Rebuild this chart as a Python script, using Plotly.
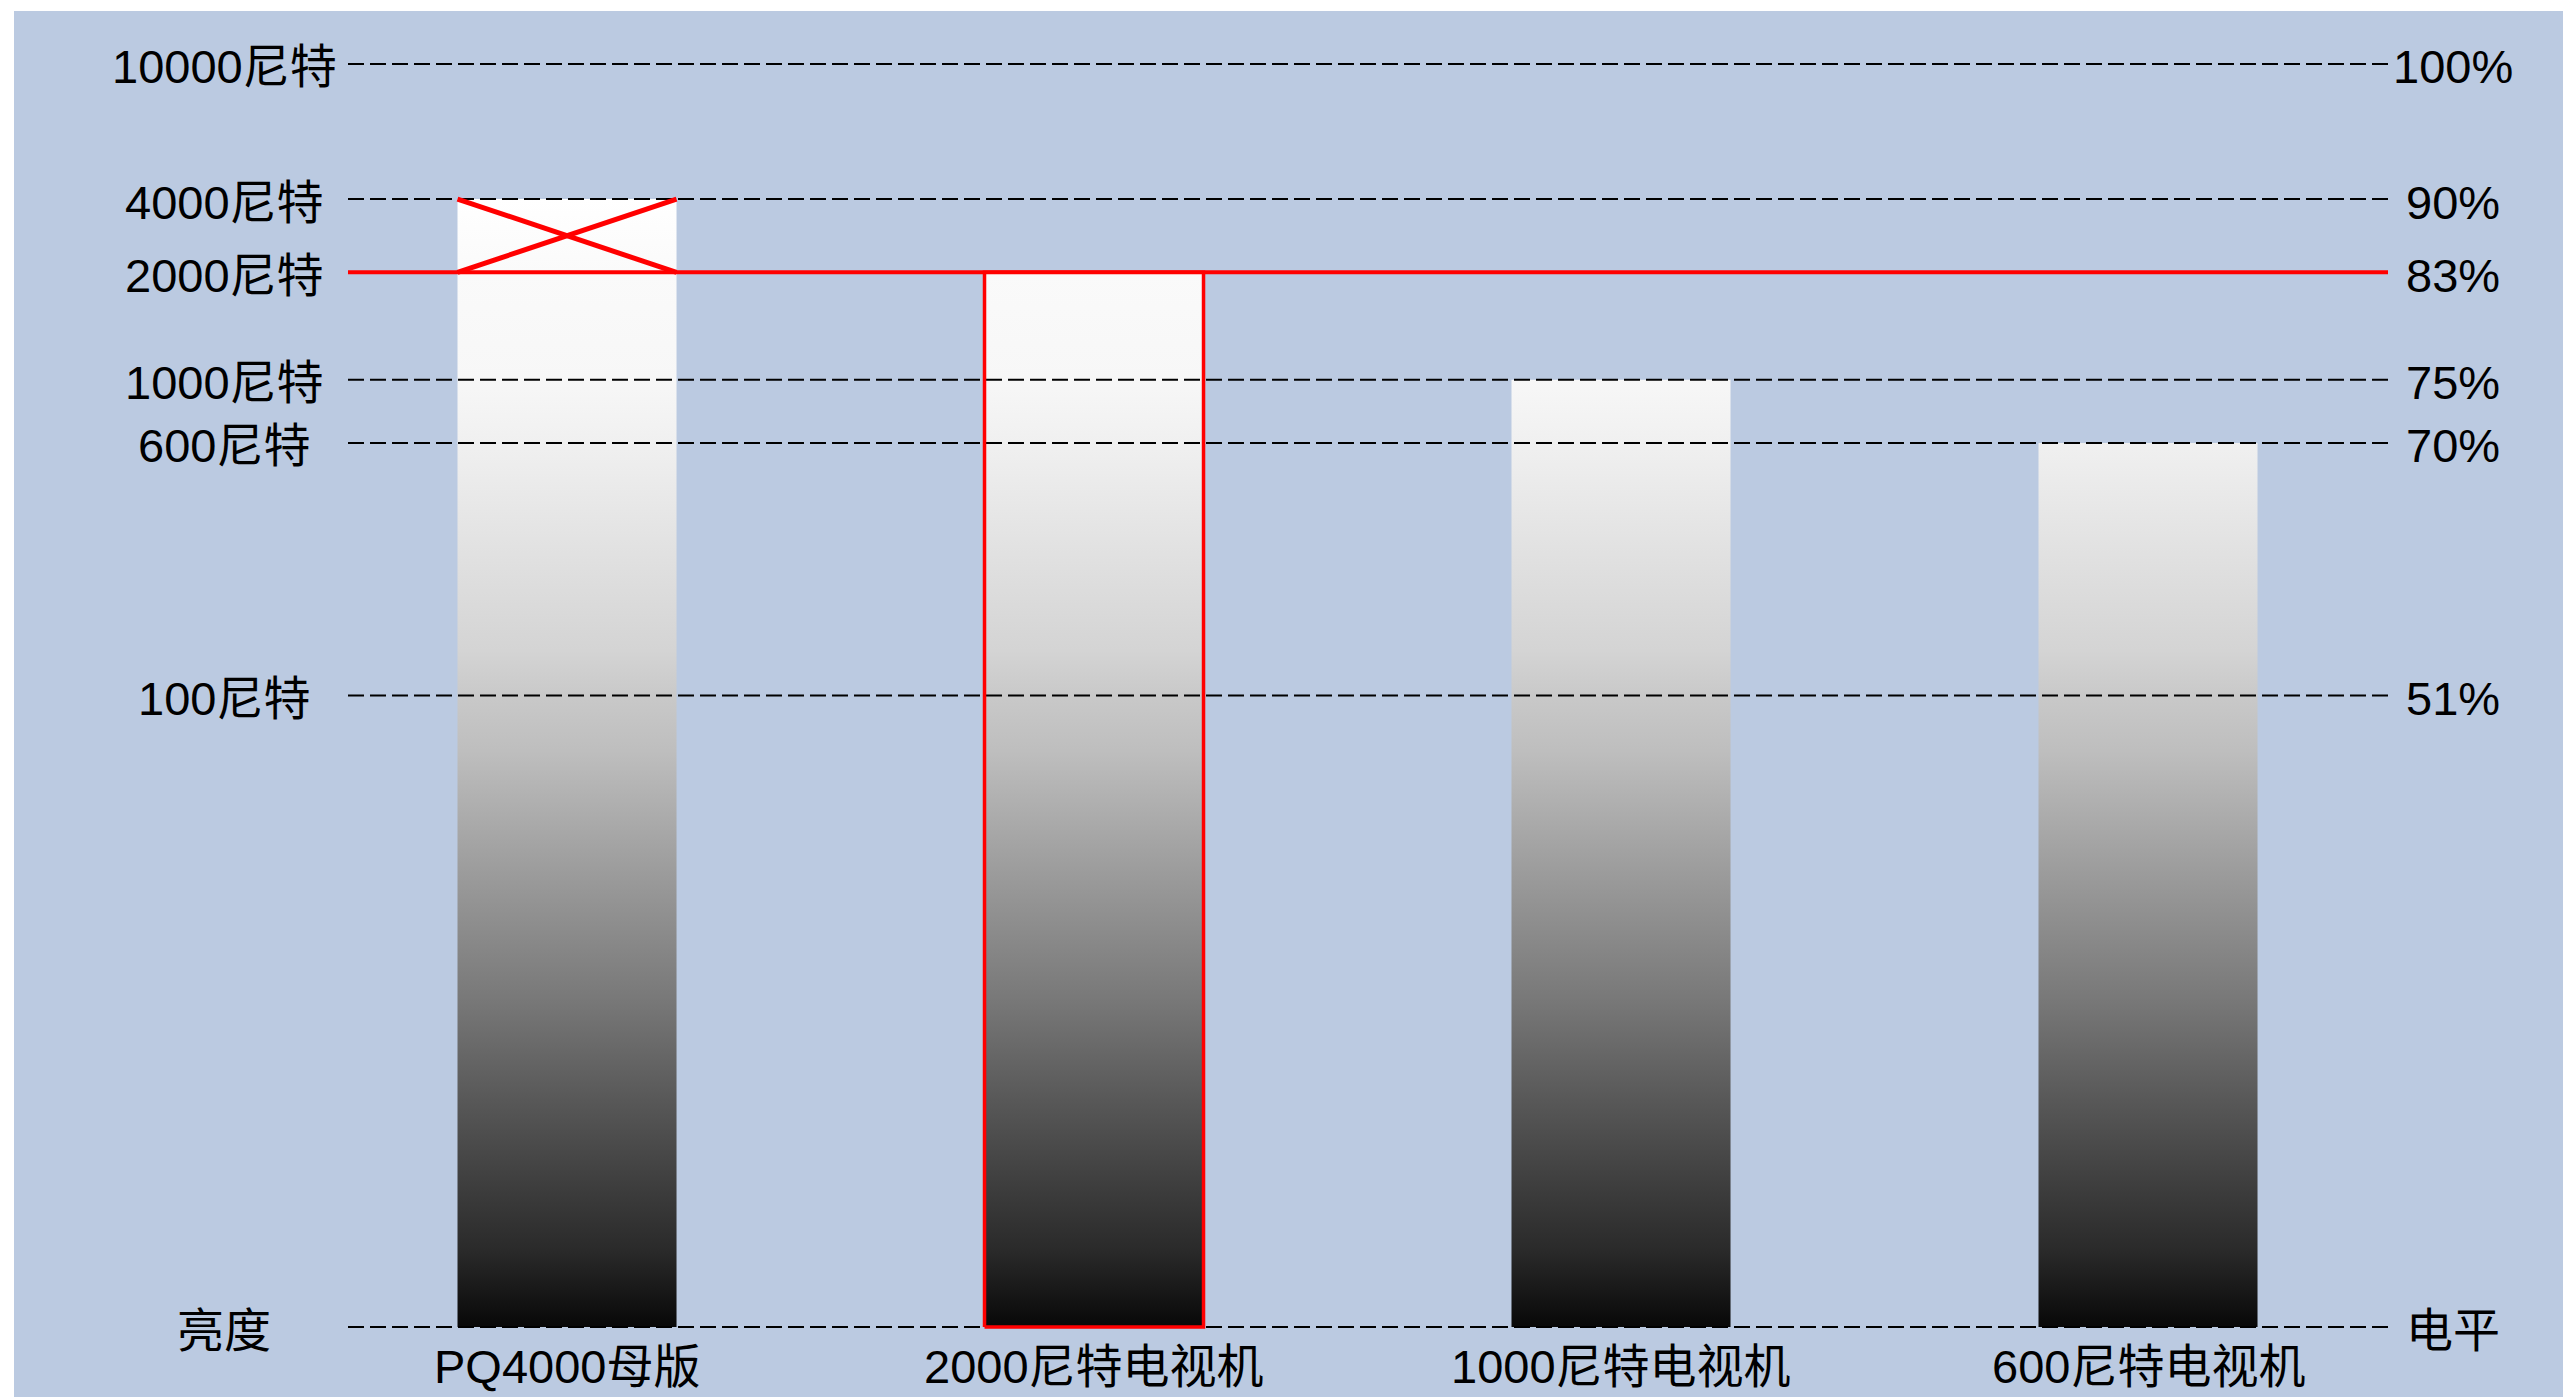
import plotly.graph_objects as go

# ---------------- data ----------------
categories = ["PQ4000母版", "2000尼特电视机", "1000尼特电视机", "600尼特电视机"]
bar_levels = [89.3, 83.5, 75.0, 70.0]          # signal level (axis position) of each bar top
tick_levels = [100.0, 89.3, 83.5, 75.0, 70.0, 50.0, 0.0]
nits_labels = ["10000尼特", "4000尼特", "2000尼特", "1000尼特", "600尼特", "100尼特", "亮度"]
pct_labels = ["100%", "90%", "83%", "75%", "70%", "51%", "电平"]
highlight_level = 83.5                          # 2000-nit clipping line
highlight_bar = 1                               # outlined bar (2000尼特电视机)
crossed_bar = 0                                 # bar whose top part is crossed out

# ---------------- layout constants ----------------
W, H = 2563, 1397
ML, MR, MT, MB = 348, 175, 45, 51
XR = [-0.4156, 3.4554]
YR = [-1.5, 101.5]
HALF = 0.2078
BLUE = "#BBCAE1"
RED = "#FF0000"
FONT = "Liberation Sans, Arial, Noto Sans CJK SC, sans-serif"
FS = 47
PW, PH = W - ML - MR, H - MT - MB


def px_x(px):
    return (px - ML) / PW


def px_y(py):
    return (H - MB - py) / PH


gray_scale = [
    [0.0, "#080808"], [0.068, "#2A2A2A"], [0.201, "#585858"], [0.29, "#787878"],
    [0.511, "#BEBEBE"], [0.556, "#C8C8C8"], [0.6, "#D4D4D4"], [0.784, "#F0F0F0"],
    [0.839, "#F7F7F7"], [0.936, "#FAFAFA"], [1.0, "#FFFFFF"],
]
grad_top = max(bar_levels)

fig = go.Figure()

# gradient bars
for i, (cat, lv) in enumerate(zip(categories, bar_levels)):
    fig.add_trace(go.Scatter(
        x=[i - HALF, i + HALF, i + HALF, i - HALF, i - HALF],
        y=[0, 0, lv, lv, 0],
        mode="lines", fill="toself",
        fillgradient=dict(type="vertical", colorscale=gray_scale, start=0, stop=grad_top),
        line=dict(width=0, color="rgba(0,0,0,0)"),
        name=cat, hoverinfo="skip", showlegend=False,
    ))

# dashed reference lines
for lv in tick_levels:
    if lv == highlight_level:
        continue
    fig.add_trace(go.Scatter(
        x=XR, y=[lv, lv], mode="lines",
        line=dict(color="black", width=2, dash="16px,6px"),
        hoverinfo="skip", showlegend=False,
    ))

# red 2000-nit line
fig.add_trace(go.Scatter(
    x=XR, y=[highlight_level, highlight_level], mode="lines",
    line=dict(color=RED, width=4), hoverinfo="skip", showlegend=False,
))

# red outline around highlighted bar
hb = highlight_bar
hl = bar_levels[hb]
fig.add_trace(go.Scatter(
    x=[hb - HALF, hb + HALF, hb + HALF, hb - HALF, hb - HALF],
    y=[0, 0, hl, hl, 0], mode="lines",
    line=dict(color=RED, width=3.5), hoverinfo="skip", showlegend=False,
))

# red X over the clipped part of the master bar
cb = crossed_bar
top = bar_levels[cb]
for ys in ([top, highlight_level], [highlight_level, top]):
    fig.add_trace(go.Scatter(
        x=[cb - HALF, cb + HALF], y=ys, mode="lines",
        line=dict(color=RED, width=5), hoverinfo="skip", showlegend=False,
    ))

annotations = []
for lv, lt, rt in zip(tick_levels, nits_labels, pct_labels):
    annotations.append(dict(x=px_x(224), xref="paper", y=lv, yref="y", text=lt,
                            showarrow=False, xanchor="center", yanchor="middle", yshift=-3,
                            font=dict(family=FONT, size=FS, color="black")))
    annotations.append(dict(x=px_x(2453), xref="paper", y=lv, yref="y", text=rt,
                            showarrow=False, xanchor="center", yanchor="middle", yshift=-3,
                            font=dict(family=FONT, size=FS, color="black")))
for i, cat in enumerate(categories):
    annotations.append(dict(x=i, xref="x", y=px_y(1366), yref="paper", text=cat,
                            showarrow=False, xanchor="center", yanchor="middle",
                            font=dict(family=FONT, size=FS, color="black")))

shapes = [
    dict(type="rect", xref="paper", yref="paper", layer="below",
         x0=px_x(14), x1=px_x(W + 5), y0=px_y(H + 5), y1=px_y(11),
         fillcolor=BLUE, line=dict(width=0)),
]

fig.update_layout(
    width=W, height=H,
    margin=dict(l=ML, r=MR, t=MT, b=MB, pad=0),
    paper_bgcolor="white", plot_bgcolor=BLUE,
    showlegend=False,
    xaxis=dict(range=XR, visible=False, fixedrange=True),
    yaxis=dict(range=YR, visible=False, fixedrange=True),
    annotations=annotations, shapes=shapes,
)

fig.write_html("out.html", config={"displayModeBar": False},
               post_script="document.body.style.margin='0';document.body.style.overflow='hidden';")
